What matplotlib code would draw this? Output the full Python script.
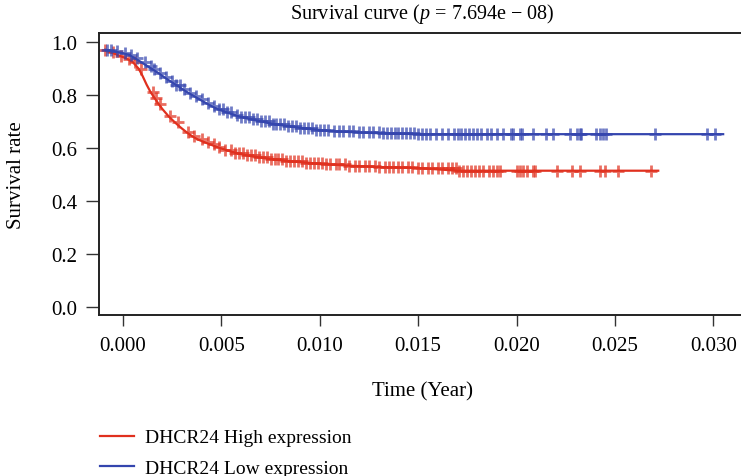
import numpy as np
import matplotlib
matplotlib.use("Agg")
import matplotlib.pyplot as plt

plt.rcParams['font.family'] = ['Liberation Serif', 'DejaVu Serif']
plt.rcParams['mathtext.fontset'] = 'custom'
plt.rcParams['mathtext.rm'] = 'Liberation Serif'
plt.rcParams['mathtext.it'] = 'Liberation Serif:italic'

# ---- data ----
red_t = [-0.0010, -0.0006, -0.0002, 0.0002, 0.0005, 0.0008, 0.0010, 0.0012, 0.0014, 0.0016,
         0.0018, 0.0020, 0.0023, 0.0026, 0.0029, 0.0032, 0.0035, 0.0038, 0.0041, 0.0044,
         0.0048, 0.0052, 0.0057, 0.0062, 0.0068, 0.0075, 0.0083, 0.0092, 0.0102, 0.0115,
         0.0130, 0.0150, 0.0170, 0.0272]
red_s = [0.970, 0.962, 0.950, 0.938, 0.925, 0.900, 0.872, 0.840, 0.812, 0.790,
         0.768, 0.748, 0.722, 0.700, 0.680, 0.662, 0.646, 0.633, 0.624, 0.615,
         0.604, 0.594, 0.583, 0.574, 0.566, 0.559, 0.552, 0.546, 0.540, 0.534,
         0.529, 0.525, 0.515, 0.515]

blue_t = [-0.0009, -0.0005, -0.0001, 0.0003, 0.0006, 0.0009, 0.0012, 0.0015, 0.0018, 0.0021,
          0.0024, 0.0027, 0.0030, 0.0033, 0.0036, 0.0039, 0.0042, 0.0045, 0.0048, 0.0052,
          0.0056, 0.0060, 0.0065, 0.0070, 0.0076, 0.0083, 0.0090, 0.0098, 0.0107, 0.0118,
          0.0132, 0.0150, 0.0305]
blue_s = [0.972, 0.966, 0.960, 0.953, 0.940, 0.926, 0.912, 0.898, 0.884, 0.868,
          0.853, 0.839, 0.824, 0.810, 0.797, 0.784, 0.771, 0.759, 0.748, 0.737,
          0.727, 0.718, 0.709, 0.701, 0.692, 0.684, 0.677, 0.670, 0.664, 0.660,
          0.656, 0.653, 0.653]

red_cens = [-0.0009, -0.0005, -0.0001, 0.0003, 0.0006, 0.0009, 0.0015, 0.0017, 0.0019, 0.0024,
            0.0028, 0.0033, 0.0036, 0.0040, 0.0043, 0.0046, 0.0049, 0.0052, 0.0055, 0.0057,
            0.0059, 0.0061, 0.0063, 0.0065, 0.0067, 0.0069, 0.0071, 0.0073, 0.0075, 0.0077,
            0.0079, 0.0081, 0.0083, 0.0085, 0.0087, 0.0089, 0.0091, 0.0093, 0.0095, 0.0097,
            0.0099, 0.0101, 0.0103, 0.0105, 0.0108, 0.0110, 0.0113, 0.0115, 0.0118, 0.0120,
            0.0123, 0.0125, 0.0128, 0.0130, 0.0133, 0.0135, 0.0137, 0.0140, 0.0142, 0.0145,
            0.0147, 0.0150, 0.0152, 0.0155, 0.0157, 0.0160, 0.0162, 0.0165, 0.0167, 0.0169,
            0.0171, 0.0173, 0.0175, 0.0177, 0.0179, 0.0181, 0.0183, 0.0186, 0.0188, 0.0190,
            0.01916, 0.0200, 0.02017, 0.02034, 0.02051, 0.02085, 0.02093, 0.02204, 0.0228,
            0.02322, 0.02424, 0.02449, 0.02517, 0.02682]
blue_cens = [-0.0008, -0.0006, -0.0003, 0.0001, 0.0004, 0.0007, 0.0011, 0.0014, 0.0016, 0.0019,
             0.0022, 0.0025, 0.0027, 0.0029, 0.0031, 0.0034, 0.0037, 0.0040, 0.0043, 0.0046,
             0.0049, 0.0051, 0.0053, 0.0055, 0.0058, 0.0060, 0.0062, 0.0064, 0.0066, 0.0068,
             0.0070, 0.0072, 0.0074, 0.0076, 0.0078, 0.0080, 0.0082, 0.0084, 0.0086, 0.0088,
             0.0090, 0.0092, 0.0094, 0.0096, 0.0098, 0.0100, 0.0102, 0.0104, 0.0107, 0.0110,
             0.0112, 0.0115, 0.0117, 0.0120, 0.0122, 0.0125, 0.0127, 0.0130, 0.0132, 0.0134,
             0.0136, 0.0138, 0.0140, 0.0142, 0.0144, 0.0146, 0.0148, 0.0150, 0.0152, 0.0154,
             0.0156, 0.0159, 0.0162, 0.0165, 0.0168, 0.0170, 0.0172, 0.0174, 0.0176, 0.0178,
             0.0180, 0.0182, 0.0185, 0.0187, 0.0190, 0.0193, 0.0197, 0.0198, 0.0202, 0.0203,
             0.02085, 0.02148, 0.02187, 0.02271, 0.02305, 0.02322, 0.0233, 0.02406, 0.02424,
             0.0244, 0.02457, 0.02703, 0.02966, 0.03008]

labels = ['DHCR24 High expression', 'DHCR24 Low expression']
title = r'Survival curve ($\mathit{p}$ = 7.694e − 08)'
xticks = [0.000, 0.005, 0.010, 0.015, 0.020, 0.025, 0.030]
yticks = [0.0, 0.2, 0.4, 0.6, 0.8, 1.0]

red_c = '#E0301E'
blue_c = '#3445AE'

W, H = 741, 477
fig = plt.figure(figsize=(W / 100, H / 100), dpi=100)
L, R, T, B = 99, 745, 34.3, 316
ax = fig.add_axes([L / W, (H - B) / H, (R - L) / W, (B - T) / H])


def step_val(t_knots, s_knots, t):
    idx = np.searchsorted(np.asarray(t_knots), np.asarray(t), side='right') - 1
    idx = np.clip(idx, 0, len(s_knots) - 1)
    return np.asarray(s_knots)[idx]


for tk, sk, cens, col, lab in [(red_t, red_s, red_cens, red_c, labels[0]),
                               (blue_t, blue_s, blue_cens, blue_c, labels[1])]:
    ax.plot(tk, sk, color=col, lw=1.6, label=lab)
    ax.plot(cens, step_val(tk, sk, cens), ls='none', marker='+', color=col,
            ms=8, mew=2.0, alpha=0.7)

ax.set_xlim(-0.00122, 0.03161)
ax.set_ylim(-0.030, 1.034)
ax.set_xticks(xticks)
ax.set_xticklabels([f'{v:.3f}' for v in xticks])
ax.set_yticks(yticks)
ax.set_yticklabels([f'{v:.1f}' for v in yticks])
ax.tick_params(axis='both', labelsize=15, width=1.0, color='#333333')
ax.tick_params(axis='y', length=9.4, pad=6)
ax.tick_params(axis='x', length=8, pad=7)
for sp in ax.spines.values():
    sp.set_linewidth(1.4)
    sp.set_color('#222222')

ax.set_title(title, fontsize=14.5, pad=11)
ax.set_xlabel('Time (Year)', fontsize=15, labelpad=19)
ax.set_ylabel('Survival rate', fontsize=15, labelpad=18)

fig.legend(loc='upper left', bbox_to_anchor=(94 / W, 1 - 424 / H), frameon=False,
           fontsize=14, handlelength=1.75, handletextpad=0.55, labelspacing=0.68,
           borderaxespad=0.0, borderpad=0.3)

fig.savefig('out.png', dpi=100)
